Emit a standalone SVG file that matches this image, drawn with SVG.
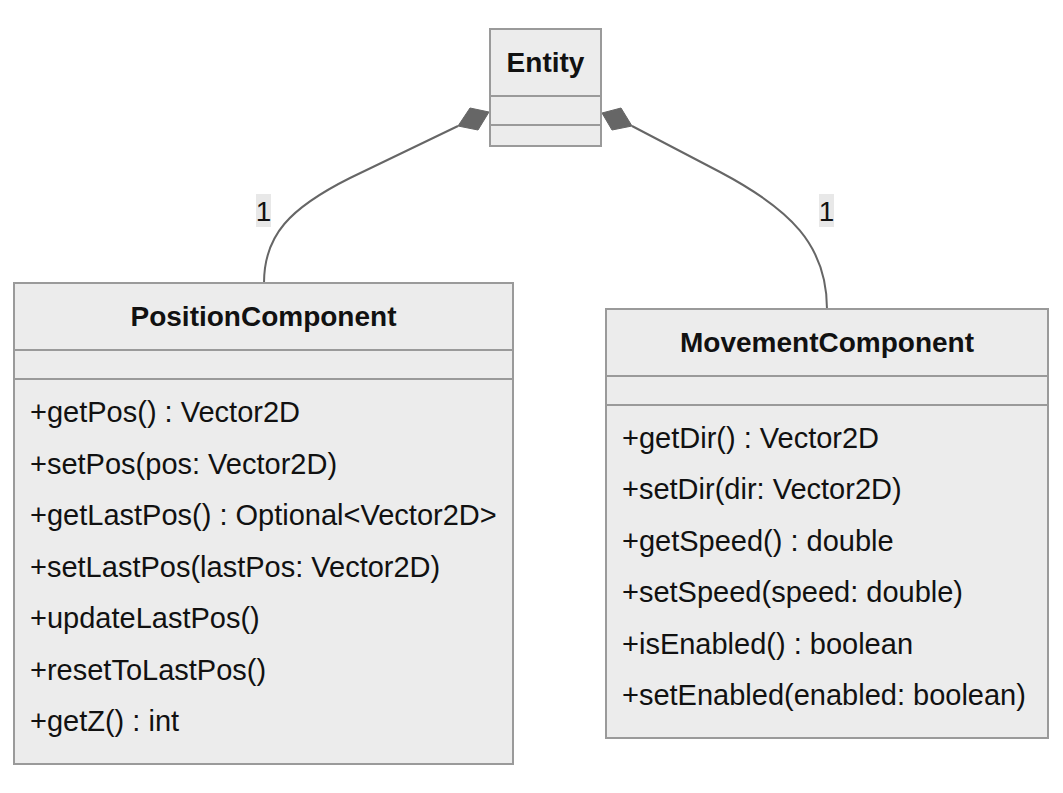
<svg xmlns="http://www.w3.org/2000/svg" width="1063" height="793" viewBox="0 0 1063 793">
<style>
.box{fill:#ececec;stroke:#9a9a9a;stroke-width:2}
.div{stroke:#9a9a9a;stroke-width:2}
.title{font-family:"Liberation Sans",Arial,sans-serif;font-size:28px;font-weight:bold;fill:#111;text-anchor:middle}
.m{font-family:"Liberation Sans",Arial,sans-serif;font-size:29px;fill:#111}
.edge{fill:none;stroke:#666;stroke-width:2}
.dia{fill:#666;stroke:#666;stroke-width:1}
.lblbg{fill:#e8e8e8}
.lbl{font-family:"Liberation Sans",Arial,sans-serif;font-size:28px;fill:#111;text-anchor:middle}
</style>
<rect width="1063" height="793" fill="#fff"/>
<g id="connectors">
<path class="edge" d="M458,126 L350,178 C290,208 264,235 264,283"/>
<polygon class="dia" points="489,112 470,108 458,126 478,130"/>
<path class="edge" d="M632,126 L720,172 C790,209 827,245 827,309"/>
<polygon class="dia" points="602,113 612,130 632,126 621,108"/>
<rect class="lblbg" x="256" y="194" width="15" height="33"/>
<text class="lbl" x="263.5" y="221">1</text>
<rect class="lblbg" x="819" y="194" width="15" height="33"/>
<text class="lbl" x="826.5" y="221">1</text>
</g>
<g id="Entity">
<rect class="box" x="490" y="29" width="111" height="117"/>
<line class="div" x1="490" y1="96" x2="601" y2="96"/>
<line class="div" x1="490" y1="125" x2="601" y2="125"/>
<text class="title" x="545.5" y="72">Entity</text>
</g>
<g id="PositionComponent">
<rect class="box" x="14" y="283" width="499" height="481"/>
<line class="div" x1="14" y1="350" x2="513" y2="350"/>
<line class="div" x1="14" y1="379" x2="513" y2="379"/>
<text class="title" x="263.5" y="326">PositionComponent</text>
<text class="m" x="30" y="422">+getPos() : Vector2D</text>
<text class="m" x="30" y="474">+setPos(pos: Vector2D)</text>
<text class="m" x="30" y="525">+getLastPos() : Optional&lt;Vector2D&gt;</text>
<text class="m" x="30" y="577">+setLastPos(lastPos: Vector2D)</text>
<text class="m" x="30" y="628">+updateLastPos()</text>
<text class="m" x="30" y="680">+resetToLastPos()</text>
<text class="m" x="30" y="731">+getZ() : int</text>
</g>
<g id="MovementComponent">
<rect class="box" x="606" y="309" width="442" height="429"/>
<line class="div" x1="606" y1="376" x2="1048" y2="376"/>
<line class="div" x1="606" y1="405" x2="1048" y2="405"/>
<text class="title" x="827" y="352">MovementComponent</text>
<text class="m" x="622" y="448">+getDir() : Vector2D</text>
<text class="m" x="622" y="499">+setDir(dir: Vector2D)</text>
<text class="m" x="622" y="551">+getSpeed() : double</text>
<text class="m" x="622" y="602">+setSpeed(speed: double)</text>
<text class="m" x="622" y="654">+isEnabled() : boolean</text>
<text class="m" x="622" y="705">+setEnabled(enabled: boolean)</text>
</g>
</svg>
